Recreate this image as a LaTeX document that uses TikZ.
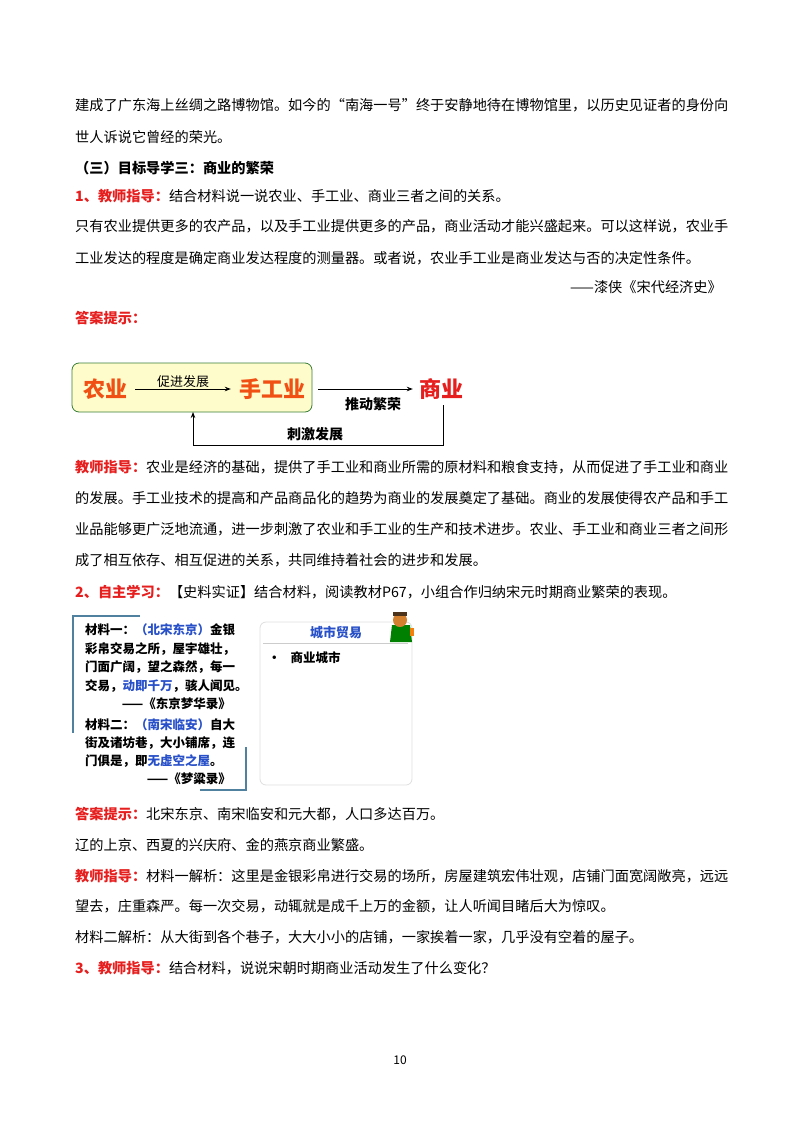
\documentclass[tikz,border=0pt]{standalone}
\usepackage{fontspec}
\setmainfont{Noto Sans CJK SC}
\usetikzlibrary{arrows.meta}
\definecolor{rd}{RGB}{230,30,30}
\definecolor{org}{RGB}{240,80,20}
\definecolor{bl}{RGB}{40,80,200}
\definecolor{frame}{RGB}{80,130,160}
\begin{document}
\begin{tikzpicture}[x=1pt,y=-1pt,
 body/.style={anchor=west,inner sep=0pt,font=\fontsize{14.2}{16}\selectfont},
 mat/.style={anchor=west,inner sep=0pt,font=\fontsize{12.5}{14}\selectfont\bfseries},
 big/.style={inner sep=0pt,font=\fontsize{22}{24}\selectfont\bfseries},
 lab/.style={inner sep=0pt,font=\fontsize{14}{16}\selectfont\bfseries},
 arr/.style={-{Stealth[length=6pt]},line width=0.8pt}]
\useasboundingbox (0,0) rectangle (800,1132);
\node[body] (l1) at (75,105) {建成了广东海上丝绸之路博物馆。如今的“南海一号”终于安静地待在博物馆里，以历史见证者的身份向};
\node[body] (l2) at (75,137) {世人诉说它曾经的荣光。};
\node[body,font=\fontsize{14.2}{16}\selectfont\bfseries] (h3) at (75,168) {（三）目标导学三：商业的繁荣};
\node[body] (l4) at (75,196) {\textcolor{rd}{\bfseries 1、教师指导：}结合材料说一说农业、手工业、商业三者之间的关系。};
\node[body] (l5) at (75,226) {只有农业提供更多的农产品，以及手工业提供更多的产品，商业活动才能兴盛起来。可以这样说，农业手};
\node[body] (l6) at (75,258) {工业发达的程度是确定商业发达程度的测量器。或者说，农业手工业是商业发达与否的决定性条件。};
\node[body,anchor=east] (l7) at (722,287) {——漆侠《宋代经济史》};
\node[body,text=rd,font=\fontsize{14.2}{16}\selectfont\bfseries] (l8) at (75,318) {答案提示：};
% diagram
\draw[rounded corners=7pt,fill=yellow!20!white,draw=gray!60!green!70!black,line width=0.8pt] (72,363) rectangle (312,412);
\node[big,text=org] (ny) at (105,389) {农业};
\node[big,text=org] (sg) at (272,389) {手工业};
\node[big,text=rd] (sy) at (441,389) {商业};
\draw[arr] (ny.east)+(8,0) coordinate (a1) -- ([xshift=-8pt]sg.west) node[midway,above=1pt,lab,font=\fontsize{13}{15}\selectfont] {促进发展};
\draw[arr] (318,389) coordinate (b1) -- ([xshift=-6pt]sy.west);
\node[lab] (td) at (373,404) {推动繁荣};
\coordinate (c1) at (443,405);
\coordinate (c2) at (193,412);
\draw[arr] (c1) -- (443,445) -- (193,445) -- (c2);
\node[lab] (cj) at (315,434) {刺激发展};
% teacher
\node[body] (t1) at (75,467) {\textcolor{rd}{\bfseries 教师指导：}农业是经济的基础，提供了手工业和商业所需的原材料和粮食支持，从而促进了手工业和商业};
\node[body] (t2) at (75,498) {的发展。手工业技术的提高和产品商品化的趋势为商业的发展奠定了基础。商业的发展使得农产品和手工};
\node[body] (t3) at (75,529) {业品能够更广泛地流通，进一步刺激了农业和手工业的生产和技术进步。农业、手工业和商业三者之间形};
\node[body] (t4) at (75,560) {成了相互依存、相互促进的关系，共同维持着社会的进步和发展。};
\node[body] (t5) at (75,592) {\textcolor{rd}{\bfseries 2、自主学习：}【史料实证】结合材料，阅读教材P67，小组合作归纳宋元时期商业繁荣的表现。};
% material box
\draw[frame,line width=2.5pt] (140,616) -- (73,616) -- (73,733);
\draw[frame,line width=2.5pt] (246,747) -- (246,790) -- (200,790);
\node[mat] (m1) at (85,630) {材料一：\textcolor{bl}{（北宋东京）}金银};
\node[mat] (m2) at (85,649) {彩帛交易之所，屋宇雄壮，};
\node[mat] (m3) at (85,667) {门面广阔，望之森然，每一};
\node[mat] (m4) at (85,686) {交易，\textcolor{bl}{动即千万}，骇人闻见。};
\node[mat,anchor=east] (m5) at (231,704) {——《东京梦华录》};
\node[mat] (m6) at (85,725) {材料二：\textcolor{bl}{（南宋临安）}自大};
\node[mat] (m7) at (85,743) {街及诸坊巷，大小铺席，连};
\node[mat] (m8) at (85,761) {门俱是，即\textcolor{bl}{无虚空之屋}。};
\node[mat,anchor=east] (m9) at (231,779) {——《梦粱录》};
\draw[rounded corners=6pt,draw=gray!25,line width=0.8pt,fill=white] (260,622) rectangle (412,785);
\node[inner sep=0pt,text=bl,font=\fontsize{13}{15}\selectfont\bfseries] (ct) at (336,633) {城市贸易};
\draw[gray!40,line width=0.8pt] (263,643) -- (408,643);
\node[mat] (b1) at (268,658) {•\hspace{10pt}商业城市};
% cartoon figure
\fill[green!50!black] (392,625) -- (410,625) -- (412,642) -- (390,642) -- cycle;
\fill[brown!70!orange] (400,620) circle (7);
\fill[brown!40!black] (393,612) rectangle (407,616);
\fill[orange!80!brown] (410,628) rectangle (414,636);
% bottom text
\node[body] (u1) at (75,814) {\textcolor{rd}{\bfseries 答案提示：}北宋东京、南宋临安和元大都，人口多达百万。};
\node[body] (u2) at (75,845) {辽的上京、西夏的兴庆府、金的燕京商业繁盛。};
\node[body] (u3) at (75,876) {\textcolor{rd}{\bfseries 教师指导：}材料一解析：这里是金银彩帛进行交易的场所，房屋建筑宏伟壮观，店铺门面宽阔敞亮，远远};
\node[body] (u4) at (75,906) {望去，庄重森严。每一次交易，动辄就是成千上万的金额，让人听闻目睹后大为惊叹。};
\node[body] (u5) at (75,937) {材料二解析：从大街到各个巷子，大大小小的店铺，一家挨着一家，几乎没有空着的屋子。};
\node[body] (u6) at (75,968) {\textcolor{rd}{\bfseries 3、教师指导：}结合材料，说说宋朝时期商业活动发生了什么变化？};
\node[inner sep=0pt,font=\fontsize{12}{14}\selectfont] (pg) at (400,1060) {10};
\end{tikzpicture}
\end{document}
